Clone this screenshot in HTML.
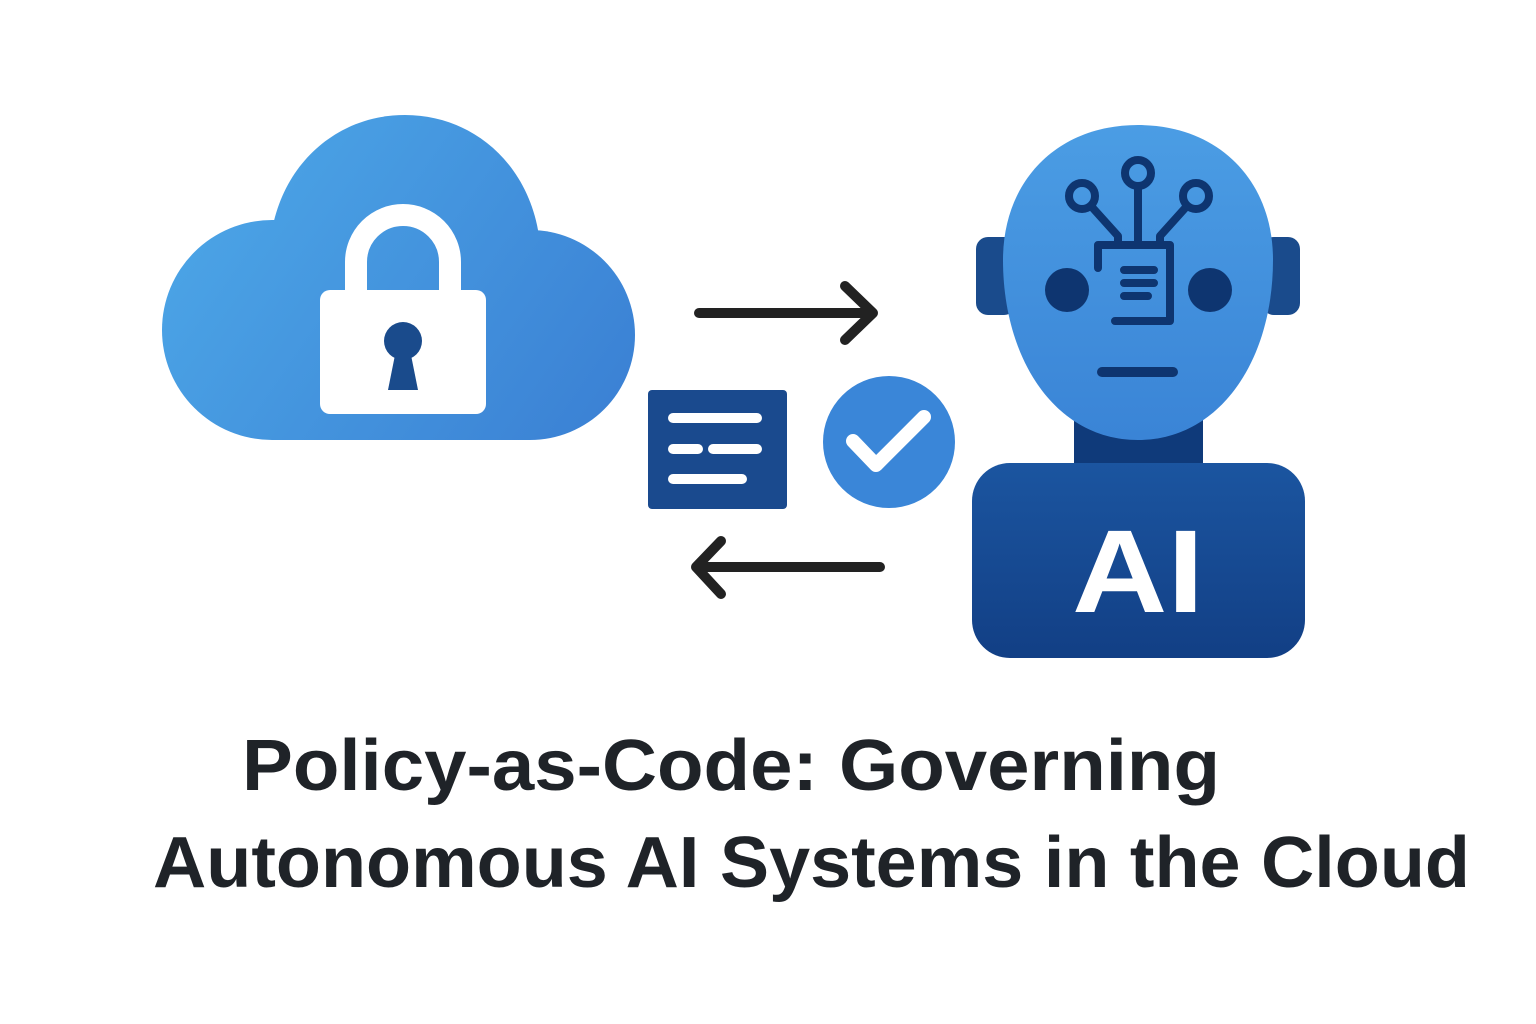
<!DOCTYPE html>
<html><head><meta charset="utf-8"><style>html,body{margin:0;padding:0;background:#fff;}svg{display:block}</style></head>
<body>
<svg width="1536" height="1024" viewBox="0 0 1536 1024" xmlns="http://www.w3.org/2000/svg">
<defs>
<linearGradient id="cg" gradientUnits="userSpaceOnUse" x1="160" y1="110" x2="636" y2="440"><stop offset="0" stop-color="#4eaae9"/><stop offset="1" stop-color="#3a7fd3"/></linearGradient>
<linearGradient id="hg" gradientUnits="userSpaceOnUse" x1="0" y1="125" x2="0" y2="440"><stop offset="0" stop-color="#4b9de4"/><stop offset="1" stop-color="#3a84d6"/></linearGradient>
<linearGradient id="bg" gradientUnits="userSpaceOnUse" x1="0" y1="463" x2="0" y2="658"><stop offset="0" stop-color="#1b55a0"/><stop offset="1" stop-color="#123f85"/></linearGradient>
</defs>
<!-- cloud -->
<g fill="url(#cg)">
<circle cx="272" cy="330" r="110"/>
<circle cx="530" cy="335" r="105"/>
<path d="M272 230 C285 160 340 115 405 115 C470 115 525 160 538 230 L538 330 L272 330 Z"/>
<rect x="272" y="220" width="258" height="220"/>
</g>
<!-- lock -->
<path d="M356 292 V262 A47 47 0 0 1 450 262 V292" fill="none" stroke="#fff" stroke-width="22"/>
<rect x="320" y="290" width="166" height="124" rx="10" fill="#fff"/>
<circle cx="403" cy="341" r="19" fill="#1a4b8c"/>
<path d="M396 350 L388 390 L418 390 L410 350 Z" fill="#1a4b8c"/>
<!-- arrows -->
<g stroke="#222" stroke-width="10" stroke-linecap="round" stroke-linejoin="round" fill="none">
<path d="M699 313 H873 M845 286 L873 313 L845 340"/>
<path d="M880 567 H696 M721 541 L696 567 L721 594"/>
</g>
<!-- document -->
<rect x="648" y="390" width="139" height="119" rx="4" fill="#1a4a8e"/>
<g stroke="#fff" stroke-width="10" stroke-linecap="round">
<path d="M673 418 H757 M673 449 H698 M713 449 H757 M673 479 H742"/>
</g>
<!-- check -->
<circle cx="889" cy="442" r="66" fill="#3a86d8"/>
<path d="M853 441 L876 465 L924 417" fill="none" stroke="#fff" stroke-width="14" stroke-linecap="round" stroke-linejoin="round"/>
<!-- robot -->
<rect x="976" y="237" width="40" height="78" rx="12" fill="#1a4b8c"/>
<rect x="1262" y="237" width="38" height="78" rx="12" fill="#1a4b8c"/>
<rect x="1074" y="410" width="129" height="62" fill="#0f3a7a"/>
<rect x="972" y="463" width="333" height="195" rx="38" fill="url(#bg)"/>
<path d="M1138 125 C1218 125 1273 180 1273 260 C1273 360 1220 440 1138 440 C1056 440 1003 360 1003 260 C1003 180 1058 125 1138 125 Z" fill="url(#hg)"/>
<g fill="#0e3570"><circle cx="1067" cy="290" r="22"/><circle cx="1210" cy="290" r="22"/></g>
<path d="M1102 372 H1173" stroke="#0e3570" stroke-width="10" stroke-linecap="round"/>
<g fill="none" stroke="#0e3570" stroke-width="8" stroke-linecap="round" stroke-linejoin="round">
<circle cx="1138" cy="173" r="13"/><circle cx="1082" cy="196" r="13"/><circle cx="1196" cy="196" r="13"/>
<path d="M1138 186 V245 M1091 206 L1118 236 V245 M1187 206 L1160 236 V245"/>
<path d="M1098 245 H1170 V321 H1115 M1098 245 V268"/>
<path d="M1124 270 H1154 M1124 283 H1154 M1124 296 H1148"/>
</g>
<text x="1138" y="612" text-anchor="middle" font-family="Liberation Sans, sans-serif" font-weight="bold" font-size="118" fill="#fff" textLength="132" lengthAdjust="spacingAndGlyphs">AI</text>
<!-- title -->
<g font-family="Liberation Sans, sans-serif" font-weight="bold" fill="#1f2328">
<text x="242" y="790" font-size="72" textLength="978" lengthAdjust="spacingAndGlyphs">Policy-as-Code: Governing</text>
<text x="153" y="887" font-size="72" textLength="1317" lengthAdjust="spacingAndGlyphs">Autonomous AI Systems in the Cloud</text>
</g>
</svg>
</body></html>
